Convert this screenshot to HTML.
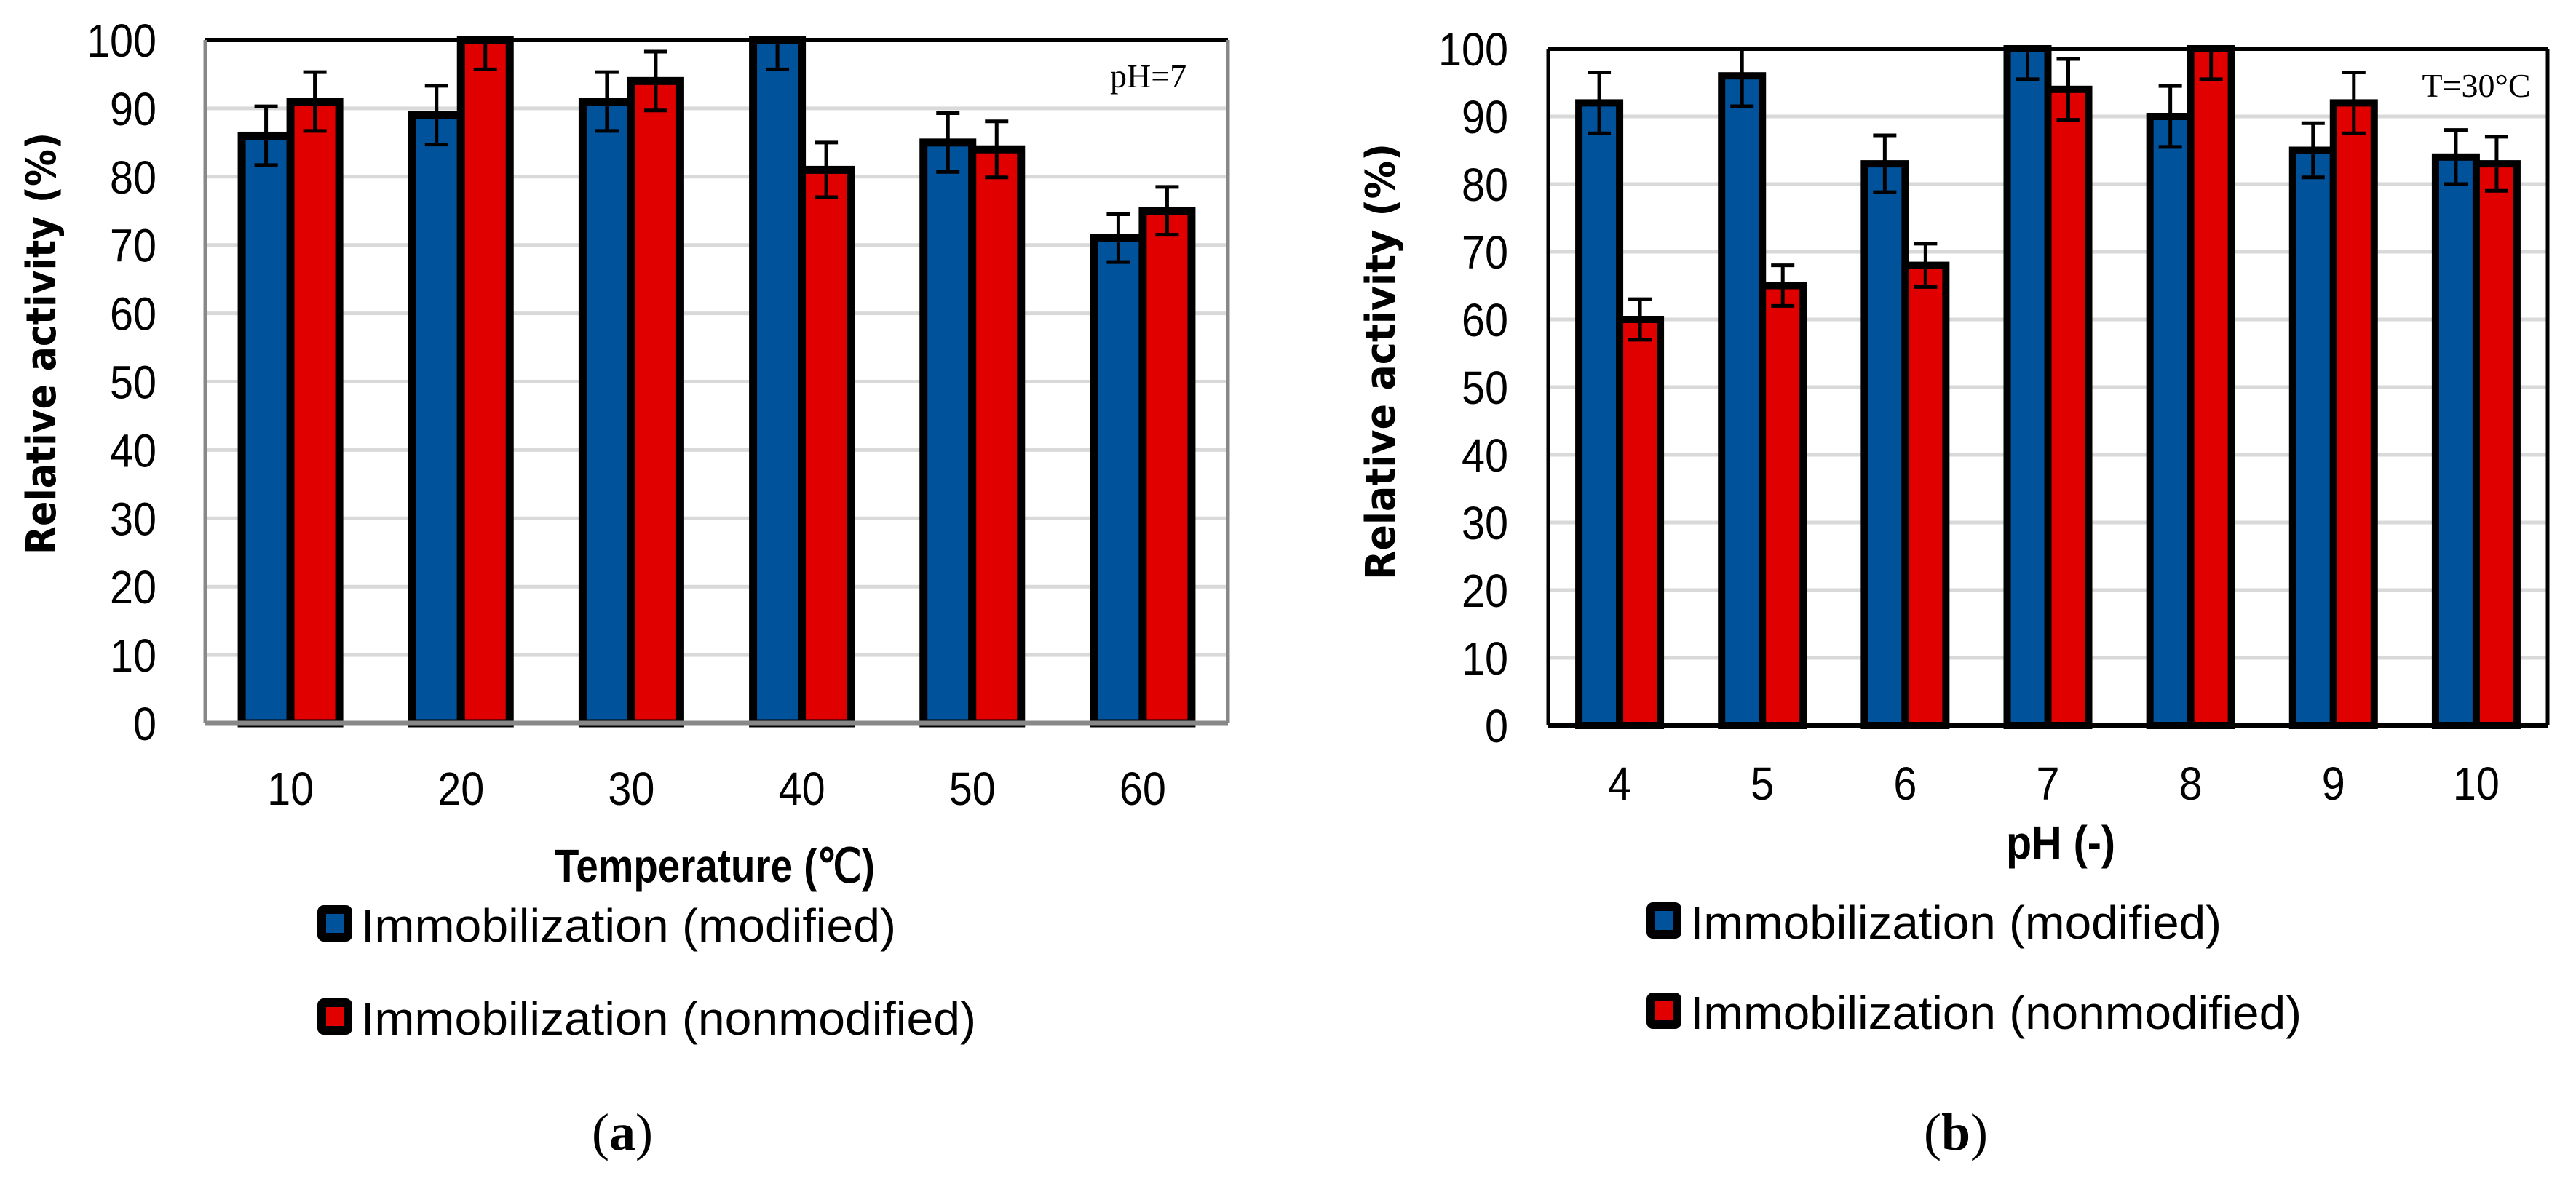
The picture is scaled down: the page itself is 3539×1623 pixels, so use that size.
<!DOCTYPE html>
<html><head><meta charset="utf-8"><style>
html,body{margin:0;padding:0;background:#fff;width:3539px;height:1623px;overflow:hidden}
svg{display:block}
.tk{font-family:"Liberation Sans Narrow","Liberation Sans",sans-serif;font-size:64px;fill:#000}
.ttl{font-family:"DejaVu Sans","Liberation Sans",sans-serif;font-weight:bold;fill:#000}
.serif{font-family:"Liberation Serif",serif;fill:#000}
</style></head><body>
<svg id="fig" width="3539" height="1623" viewBox="0 0 3539 1623" xmlns="http://www.w3.org/2000/svg"></svg>
<script>
const catsA = ["10","20","30","40","50","60"];
const modA = [86, 89, 91, 100, 85, 71];
const nonA = [91, 100, 94, 81, 84, 75];
const errModA = [4.3, 4.3, 4.3, 4.3, 4.3, 3.5];
const errNonA = [4.3, 4.3, 4.3, 4, 4.1, 3.5];
const catsB = ["4","5","6","7","8","9","10"];
const modB = [92, 96, 83, 100, 90, 85, 84];
const nonB = [60, 65, 68, 94, 100, 92, 83];
const errModB = [4.5, 4.5, 4.2, 4.5, 4.5, 4, 4];
const errNonB = [3, 3, 3.2, 4.5, 4.5, 4.5, 4];
const yTicks = [0,10,20,30,40,50,60,70,80,90,100];

const NS="http://www.w3.org/2000/svg";
const svg=document.getElementById('fig');
function mk(tag,attrs,parent){const e=document.createElementNS(NS,tag);for(const k in attrs)e.setAttribute(k,attrs[k]);(parent||svg).appendChild(e);return e;}

function chart(cfg){
  const g=mk('g',{});
  
  
  const y=v=>cfg.y0-(v/100)*(cfg.y0-cfg.y100);
  const step=(cfg.x1-cfg.x0)/cfg.cats.length;
  const cx=i=>cfg.x0+step*(i+0.5);
  yTicks.forEach(t=>{
    if(t>0&&t<100){const l=mk('line',{x1:cfg.x0,x2:cfg.x1,y1:y(t),y2:y(t),stroke:'#d9d9d9','stroke-width':5},g);
    
    }
    const s=String(t);
    const tx=mk('text',{x:cfg.tickX,y:y(t)+23,'text-anchor':'end',class:'tk',textLength:32*s.length,lengthAdjust:'spacingAndGlyphs'},g);
    tx.textContent=s;
    
    
  });
  const bw=cfg.bw;
  const series=[[cfg.mod,cfg.errMod,'#00529b',-1],[cfg.non,cfg.errNon,'#e00000',0]];
  cfg.cats.forEach((c,i)=>{
    series.forEach((s,si)=>{
      const v=s[0][i];const bx=cx(i)+s[3]*bw;
      const r=mk('rect',{x:bx,y:y(v),width:bw,height:cfg.y0-y(v),fill:s[2],stroke:'#000','stroke-width':cfg.sw},g);
      
      
    });
  });
  cfg.cats.forEach((c,i)=>{
    series.forEach((s,si)=>{
      const v=s[0][i],e=s[1][i];const ex=cx(i)+s[3]*bw+bw/2;
      const top=Math.max(y(v+e),cfg.y100),bot=y(v-e);
      const eg=mk('g',{stroke:'#000','stroke-width':5},g);
      
      
      mk('line',{x1:ex,x2:ex,y1:top,y2:bot},eg);
      if(y(v+e)>=cfg.y100) mk('line',{x1:ex-16,x2:ex+16,y1:y(v+e),y2:y(v+e)},eg);
      mk('line',{x1:ex-16,x2:ex+16,y1:bot,y2:bot},eg);
    });
    const t=mk('text',{x:cx(i),y:cfg.xLabY,'text-anchor':'middle',class:'tk',textLength:32*c.length,lengthAdjust:'spacingAndGlyphs'},g);
    t.textContent=c;
    
    
  });
  const fr=mk('g',{},g);
  
  
  mk('line',{x1:cfg.x0,x2:cfg.x1,y1:cfg.y100,y2:cfg.y100,stroke:'#000','stroke-width':6},fr);
  mk('line',{x1:cfg.x0,x2:cfg.x0,y1:cfg.y100,y2:cfg.y0,stroke:cfg.sideCol,'stroke-width':5},fr);
  mk('line',{x1:cfg.x1,x2:cfg.x1,y1:cfg.y100,y2:cfg.y0,stroke:cfg.sideCol,'stroke-width':5},fr);
  mk('line',{x1:cfg.x0,x2:cfg.x1,y1:cfg.y0,y2:cfg.y0,stroke:cfg.botCol,'stroke-width':7},fr);
  return g;
}

chart({name:'chart-a-temperature',cats:catsA,mod:modA,non:nonA,errMod:errModA,errNon:errNonA,x0:282,x1:1687,y0:994,y100:55,bw:67,sw:11,tickX:215,xLabY:1106,sideCol:'#888',botCol:'#888'});
chart({name:'chart-b-ph',cats:catsB,mod:modB,non:nonB,errMod:errModB,errNon:errNonB,x0:2127,x1:3500,y0:997,y100:67,bw:56,sw:10,tickX:2072,xLabY:1099,sideCol:'#000',botCol:'#000'});

function txt(x,y,s,cls,attrs,name){const t=mk('text',Object.assign({x:x,y:y,class:cls},attrs||{}));t.textContent=s;

return t;}
txt(0,0,'Relative activity (%)','ttl',{'font-size':56,'text-anchor':'middle',transform:'translate(76,472) rotate(-90)',textLength:580,lengthAdjust:'spacingAndGlyphs'},'y-axis-title-a');
txt(0,0,'Relative activity (%)','ttl',{'font-size':56,'text-anchor':'middle',transform:'translate(1916,497) rotate(-90)',textLength:600,lengthAdjust:'spacingAndGlyphs'},'y-axis-title-b');
txt(982,1212,'Temperature (℃)','tk',{'font-weight':'bold','font-size':70,'text-anchor':'middle',textLength:440,lengthAdjust:'spacingAndGlyphs'},'x-axis-title-a');
txt(2831,1180,'pH (-)','tk',{'font-weight':'bold','font-size':64,'text-anchor':'middle',textLength:150,lengthAdjust:'spacingAndGlyphs'},'x-axis-title-b');
txt(1525,120,'pH=7','serif',{'font-size':46},'annotation-ph');
txt(3402,133,'T=30°C','serif',{'font-size':46,'text-anchor':'middle'},'annotation-temp');
function legend(sx,sy,col,label,tw,name){
  const g=mk('g',{});
  
  
  mk('rect',{x:sx+6,y:sy-18,width:36,height:38,fill:col,stroke:'#000','stroke-width':12,rx:3},g);
  const t=mk('text',{x:sx+60,y:sy+26,class:'tk','font-size':70,textLength:tw,lengthAdjust:'spacingAndGlyphs'},g);t.textContent=label;
}
legend(436,1268,'#00529b','Immobilization (modified)',735,'legend-entry-modified-a');
legend(436,1396,'#e00000','Immobilization (nonmodified)',845,'legend-entry-nonmodified-a');
legend(2262,1264,'#00529b','Immobilization (modified)',730,'legend-entry-modified-b');
legend(2262,1388,'#e00000','Immobilization (nonmodified)',840,'legend-entry-nonmodified-b');
const ca=txt(855,1580,'','serif',{'font-size':72,'text-anchor':'middle'},'caption-a');
ca.innerHTML='(<tspan font-weight="bold">a</tspan>)';
const cb=txt(2687,1580,'','serif',{'font-size':72,'text-anchor':'middle'},'caption-b');
cb.innerHTML='(<tspan font-weight="bold">b</tspan>)';
</script>
</body></html>
